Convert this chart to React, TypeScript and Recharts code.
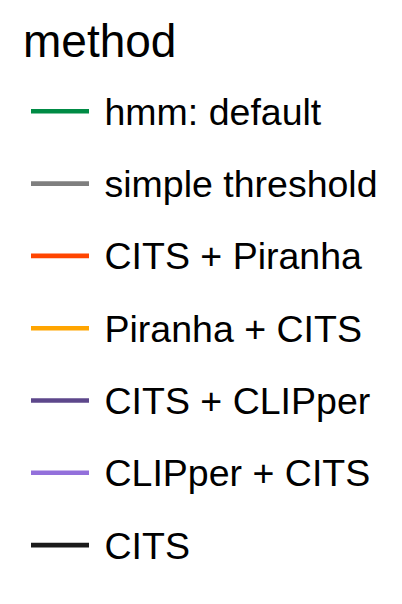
import React from "react";
import { LineChart, Line, Legend } from "recharts";

const legendTitle = "method";
const methods = [
  "hmm: default",
  "simple threshold",
  "CITS + Piranha",
  "Piranha + CITS",
  "CITS + CLIPper",
  "CLIPper + CITS",
  "CITS",
];
const colors = [
  "#008B45",
  "#7F7F7F",
  "#FF4500",
  "#FFA500",
  "#5D478B",
  "#9370DB",
  "#1A1A1A",
];
const data: Record<string, number>[] = [];

const FONT = '"Liberation Sans", Arial, Helvetica, sans-serif';

const W = 402;
const H = 604;

function LegendContent(props: any) {
  const raw: any[] =
    props.payload && props.payload.length === methods.length
      ? props.payload
      : methods.map((m, i) => ({ value: m, color: colors[i] }));
  const payload = [...raw].sort(
    (a, b) => methods.indexOf(String(a.value)) - methods.indexOf(String(b.value))
  );
  const firstY = 111.3;
  const step = 72.3;
  return (
    <svg width={W} height={H} style={{ display: "block" }}>
      <text x={23} y={57} fontSize={46} fontFamily={FONT} fill="#000">
        {legendTitle}
      </text>
      {payload.map((p, i) => {
        const cy = firstY + i * step;
        return (
          <g key={i}>
            <line
              x1={31}
              x2={89}
              y1={cy}
              y2={cy}
              stroke={p.color}
              strokeWidth={4.6}
              strokeLinecap="butt"
            />
            <text
              x={104.5}
              y={cy + 13.4}
              fontSize={37.5}
              fontFamily={FONT}
              fill="#000"
            >
              {p.value}
            </text>
          </g>
        );
      })}
    </svg>
  );
}

export default function App() {
  return (
    <div style={{ position: "fixed", left: 0, top: 0, width: W, height: H, background: "#fff" }}>
      <LineChart width={W} height={H} data={data} margin={{ top: 0, right: 0, bottom: 0, left: 0 }}>
        {methods.map((m, i) => (
          <Line
            key={m}
            type="linear"
            dataKey={m}
            name={m}
            stroke={colors[i]}
            dot={false}
            isAnimationActive={false}
          />
        ))}
        <Legend
          layout="vertical"
          align="left"
          verticalAlign="top"
          content={LegendContent}
          wrapperStyle={{ position: "absolute", left: 0, top: 0, width: W, height: H }}
        />
      </LineChart>
    </div>
  );
}
